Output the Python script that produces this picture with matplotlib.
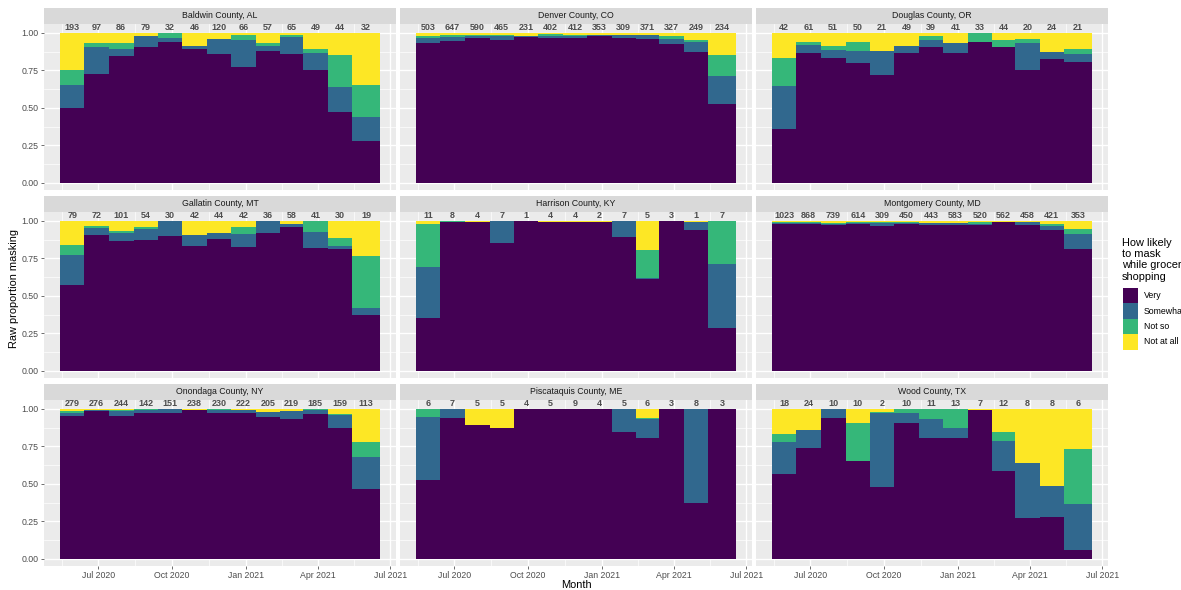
import numpy as np
import pandas as pd
import matplotlib
matplotlib.use("Agg")
import matplotlib.pyplot as plt
import matplotlib.dates as mdates
from matplotlib.patches import Rectangle

plt.rcParams['font.family'] = ['Liberation Sans', 'DejaVu Sans']

# ---------------- data ----------------
months = pd.date_range("2020-06-01", "2021-06-01", freq="MS")
levels = ["Very", "Somewhat", "Not so", "Not at all"]
level_colors = ["#440154", "#31688E", "#35B779", "#FDE725"]
major_ticks = pd.to_datetime(["2020-07-01", "2020-10-01", "2021-01-01", "2021-04-01", "2021-07-01"])
major_labels = ["Jul 2020", "Oct 2020", "Jan 2021", "Apr 2021", "Jul 2021"]

# proportions per month, rows = Very, Somewhat, Not so, Not at all
baldwin_n = [193, 97, 86, 79, 32, 46, 120, 66, 57, 65, 49, 44, 32]
baldwin_props = [
    [0.496, 0.727, 0.847, 0.907, 0.938, 0.891, 0.860, 0.773, 0.877, 0.862, 0.755, 0.473, 0.281],
    [0.157, 0.180, 0.046, 0.073, 0.031, 0.022, 0.100, 0.182, 0.035, 0.108, 0.112, 0.167, 0.156],
    [0.100, 0.026, 0.040, 0.000, 0.031, 0.000, 0.000, 0.030, 0.018, 0.015, 0.026, 0.213, 0.219],
    [0.247, 0.067, 0.067, 0.020, 0.000, 0.087, 0.040, 0.015, 0.070, 0.015, 0.107, 0.147, 0.344],
]

denver_n = [503, 647, 590, 465, 231, 402, 412, 353, 309, 371, 327, 249, 234]
denver_props = [
    [0.933, 0.947, 0.967, 0.953, 0.973, 0.967, 0.967, 0.980, 0.967, 0.960, 0.927, 0.873, 0.527],
    [0.034, 0.026, 0.013, 0.027, 0.007, 0.013, 0.013, 0.007, 0.020, 0.027, 0.033, 0.067, 0.186],
    [0.013, 0.014, 0.007, 0.007, 0.000, 0.013, 0.007, 0.000, 0.000, 0.000, 0.020, 0.013, 0.140],
    [0.020, 0.013, 0.013, 0.013, 0.020, 0.007, 0.013, 0.013, 0.013, 0.013, 0.020, 0.047, 0.147],
]

douglas_n = [42, 61, 51, 50, 21, 49, 39, 41, 33, 44, 20, 24, 21]
douglas_props = [
    [0.357, 0.867, 0.833, 0.800, 0.720, 0.867, 0.907, 0.867, 0.940, 0.907, 0.750, 0.827, 0.807],
    [0.286, 0.053, 0.054, 0.080, 0.160, 0.046, 0.046, 0.066, 0.000, 0.000, 0.185, 0.046, 0.053],
    [0.190, 0.020, 0.026, 0.060, 0.000, 0.000, 0.027, 0.000, 0.060, 0.046, 0.025, 0.000, 0.033],
    [0.167, 0.060, 0.087, 0.060, 0.120, 0.087, 0.020, 0.067, 0.000, 0.047, 0.040, 0.127, 0.107],
]

gallatin_n = [79, 72, 101, 54, 30, 42, 44, 42, 36, 58, 41, 30, 19]
gallatin_props = [
    [0.572, 0.905, 0.865, 0.870, 0.900, 0.833, 0.878, 0.825, 0.917, 0.958, 0.818, 0.810, 0.372],
    [0.200, 0.046, 0.053, 0.074, 0.100, 0.071, 0.040, 0.086, 0.083, 0.025, 0.107, 0.020, 0.047],
    [0.066, 0.014, 0.013, 0.019, 0.000, 0.000, 0.000, 0.047, 0.000, 0.000, 0.075, 0.055, 0.346],
    [0.162, 0.035, 0.069, 0.037, 0.000, 0.096, 0.082, 0.042, 0.000, 0.017, 0.000, 0.115, 0.235],
]

harrison_n = [11, 8, 4, 7, 1, 4, 4, 2, 7, 5, 3, 1, 7]
harrison_props = [
    [0.353, 0.993, 0.993, 0.851, 1.000, 0.996, 0.996, 0.996, 0.891, 0.612, 1.000, 0.938, 0.286],
    [0.339, 0.000, 0.000, 0.149, 0.000, 0.000, 0.000, 0.000, 0.109, 0.007, 0.000, 0.053, 0.428],
    [0.286, 0.007, 0.000, 0.000, 0.000, 0.000, 0.000, 0.000, 0.000, 0.186, 0.000, 0.000, 0.286],
    [0.022, 0.000, 0.007, 0.000, 0.000, 0.004, 0.004, 0.004, 0.000, 0.195, 0.000, 0.009, 0.000],
]

montgomery_n = [1023, 868, 739, 614, 309, 450, 443, 583, 520, 562, 458, 421, 353]
montgomery_props = [
    [0.980, 0.980, 0.971, 0.980, 0.967, 0.978, 0.971, 0.971, 0.971, 0.993, 0.971, 0.938, 0.812],
    [0.007, 0.007, 0.009, 0.007, 0.020, 0.009, 0.016, 0.016, 0.009, 0.000, 0.022, 0.026, 0.099],
    [0.007, 0.007, 0.007, 0.007, 0.007, 0.007, 0.000, 0.000, 0.013, 0.000, 0.000, 0.014, 0.034],
    [0.006, 0.006, 0.013, 0.006, 0.006, 0.006, 0.013, 0.013, 0.007, 0.007, 0.007, 0.022, 0.055],
]

onondaga_n = [279, 276, 244, 142, 151, 238, 230, 222, 205, 219, 185, 159, 113]
onondaga_props = [
    [0.951, 0.984, 0.951, 0.971, 0.971, 0.993, 0.971, 0.971, 0.945, 0.931, 0.965, 0.871, 0.466],
    [0.020, 0.009, 0.033, 0.022, 0.029, 0.000, 0.022, 0.022, 0.033, 0.053, 0.029, 0.087, 0.212],
    [0.013, 0.000, 0.009, 0.007, 0.000, 0.000, 0.007, 0.000, 0.000, 0.000, 0.006, 0.007, 0.100],
    [0.016, 0.007, 0.007, 0.000, 0.000, 0.007, 0.000, 0.007, 0.022, 0.016, 0.000, 0.035, 0.222],
]

piscataquis_n = [6, 7, 5, 5, 4, 5, 9, 4, 5, 6, 3, 8, 3]
piscataquis_props = [
    [0.525, 0.938, 0.891, 0.871, 1.000, 1.000, 1.000, 1.000, 0.845, 0.805, 1.000, 0.373, 1.000],
    [0.420, 0.062, 0.000, 0.000, 0.000, 0.000, 0.000, 0.000, 0.155, 0.126, 0.000, 0.627, 0.000],
    [0.055, 0.000, 0.000, 0.000, 0.000, 0.000, 0.000, 0.000, 0.000, 0.007, 0.000, 0.000, 0.000],
    [0.000, 0.000, 0.109, 0.129, 0.000, 0.000, 0.000, 0.000, 0.000, 0.062, 0.000, 0.000, 0.000],
]

wood_n = [18, 24, 10, 10, 2, 10, 11, 13, 7, 12, 8, 8, 6]
wood_props = [
    [0.565, 0.738, 0.938, 0.652, 0.479, 0.905, 0.805, 0.805, 0.993, 0.585, 0.273, 0.279, 0.060],
    [0.213, 0.120, 0.062, 0.000, 0.492, 0.066, 0.126, 0.066, 0.000, 0.200, 0.366, 0.207, 0.306],
    [0.054, 0.000, 0.000, 0.253, 0.007, 0.029, 0.069, 0.129, 0.000, 0.060, 0.000, 0.000, 0.366],
    [0.168, 0.142, 0.000, 0.095, 0.022, 0.000, 0.000, 0.000, 0.007, 0.155, 0.361, 0.514, 0.268],
]

panels = [
    ("Baldwin County, AL", baldwin_n, baldwin_props),
    ("Denver County, CO", denver_n, denver_props),
    ("Douglas County, OR", douglas_n, douglas_props),
    ("Gallatin County, MT", gallatin_n, gallatin_props),
    ("Harrison County, KY", harrison_n, harrison_props),
    ("Montgomery County, MD", montgomery_n, montgomery_props),
    ("Onondaga County, NY", onondaga_n, onondaga_props),
    ("Piscataquis County, ME", piscataquis_n, piscataquis_props),
    ("Wood County, TX", wood_n, wood_props),
]

# ---------------- layout ----------------
W, H = 1181, 590
fig = plt.figure(figsize=(W / 100, H / 100), dpi=100)


def fx(px):
    return px / W


def fy(py):
    return 1 - py / H


# bar geometry (contiguous monthly bars)
centers = mdates.date2num(months) - 2.5
edges = np.concatenate([[centers[0] - 15.5], (centers[:-1] + centers[1:]) / 2, [centers[-1] + 19.5]])
lefts = edges[:-1]
widths = np.diff(edges)

xlim = mdates.date2num(pd.to_datetime(["2020-04-24", "2021-07-08"]))
major_x = mdates.date2num(major_ticks)
minor_x = mdates.date2num(pd.to_datetime(["2020-05-16", "2020-08-16", "2020-11-16", "2021-02-15", "2021-05-16"]))

txt_col = "#4D4D4D"
for i, (name, n, props) in enumerate(panels):
    r, c = divmod(i, 3)
    left = 44 + 356 * c
    top = 24 + 188 * r
    ax = fig.add_axes([fx(left), fy(top + 166), fx(352), 166 / H])
    ax.set_facecolor("#EBEBEB")

    bottom = np.zeros(len(months))
    for vals, col in zip(props, level_colors):
        vals = np.array(vals)
        ax.bar(lefts, vals, width=widths, bottom=bottom, align="edge",
               color=col, linewidth=0, zorder=2)
        bottom += vals
    for x, cnt in zip(lefts + widths / 2, n):
        ax.text(x, 1.037, str(cnt), ha="center", va="center", fontsize=6.5,
                fontweight="bold", color=txt_col, zorder=3)

    ax.set_xlim(xlim)
    ax.set_ylim(-0.048, 1.06)
    ax.set_xticks(major_x)
    ax.set_xticks(minor_x, minor=True)
    ax.set_yticks([0, 0.25, 0.5, 0.75, 1.0])
    ax.set_yticks([0.125, 0.375, 0.625, 0.875], minor=True)
    ax.grid(which="major", color="white", linewidth=1.0, zorder=0)
    ax.grid(which="minor", color="white", linewidth=0.5, zorder=0)
    ax.set_axisbelow(True)
    for s in ax.spines.values():
        s.set_visible(False)
    ax.tick_params(which="minor", length=0)
    ax.tick_params(which="major", length=2.2, width=0.5, color="#333333",
                   labelsize=6.3, labelcolor=txt_col, pad=1.5)
    if c == 0:
        ax.set_yticklabels(["0.00", "0.25", "0.50", "0.75", "1.00"])
    else:
        ax.tick_params(axis="y", labelleft=False, length=0)
    if r == 2:
        ax.set_xticklabels(major_labels)
    else:
        ax.tick_params(axis="x", labelbottom=False, length=0)

    # facet strip
    sax = fig.add_axes([fx(left), fy(top), fx(352), 16 / H])
    sax.set_facecolor("#D9D9D9")
    sax.set_xticks([])
    sax.set_yticks([])
    for s in sax.spines.values():
        s.set_visible(False)
    sax.text(0.5, 0.5, name, ha="center", va="center", fontsize=6.3,
             color="#1A1A1A", transform=sax.transAxes)

# axis titles
fig.text(fx(14), fy(288), "Raw proportion masking", rotation=90,
         ha="center", va="center", fontsize=7.9)
fig.text(fx(576), fy(585), "Month", ha="center", va="center", fontsize=7.9)

# legend (clipped at the right edge as in the original)
fig.text(fx(1122), fy(238), "How likely\nto mask\nwhile grocery\nshopping",
         ha="left", va="top", fontsize=7.9, linespacing=1.15)
key = 15.4
for k, (lab, col) in enumerate(zip(levels, level_colors)):
    ytop = 288 + k * key
    fig.patches.append(Rectangle((fx(1122.5), fy(ytop + key)), fx(key), key / H,
                                 transform=fig.transFigure, facecolor=col,
                                 edgecolor="none"))
    fig.text(fx(1143.5), fy(ytop + key / 2), lab, ha="left", va="center",
             fontsize=6.3)

fig.savefig("out.png", dpi=100)
